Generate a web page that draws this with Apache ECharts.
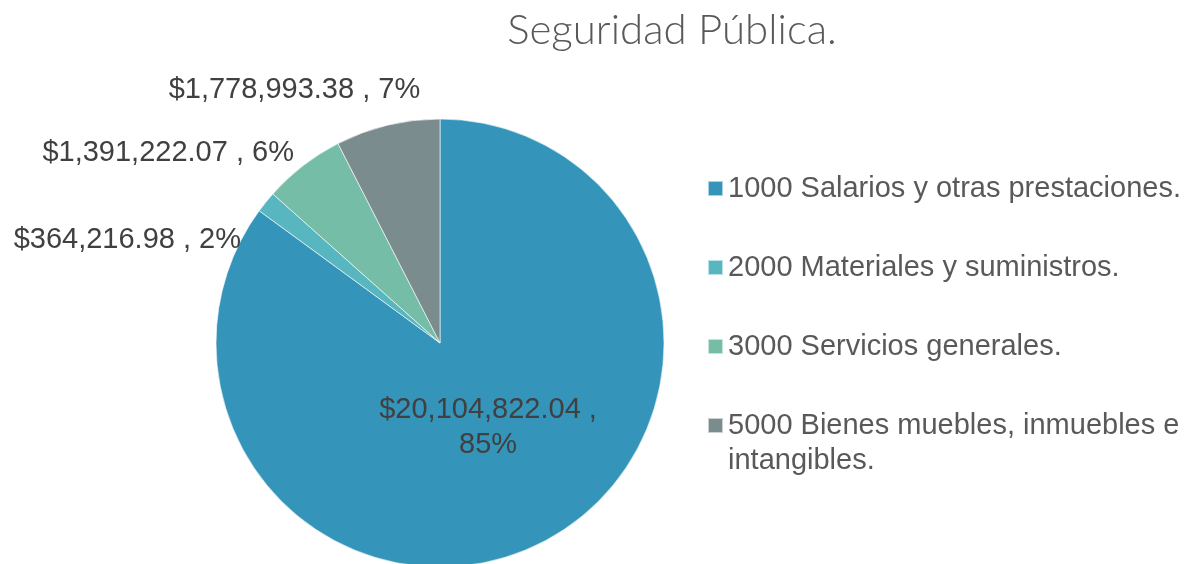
<!DOCTYPE html>
<html>
<head>
<meta charset="utf-8">
<script src="https://cdn.jsdelivr.net/npm/echarts@6/dist/echarts.min.js"></script>
<style>
  html, body { margin: 0; padding: 0; background: #fff; }
  #pie { width: 1187px; height: 564px; }
</style>
</head>
<body>
<div id="pie"></div>
<script>
var categories = [
    '1000 Salarios y otras prestaciones.',
    '2000 Materiales y suministros.',
    '3000 Servicios generales.',
    '5000 Bienes muebles, inmuebles e intangibles.'
];
var amounts = [20104822.04, 364216.98, 1391222.07, 1778993.38];
var percentLabels = ['85%', '2%', '6%', '7%'];
var colors = ['#3494BA', '#58B6C0', '#75BDA7', '#7A8C8E'];

function money(v) {
    var parts = v.toFixed(2).split('.');
    return '$' + parts[0].replace(/\B(?=(\d{3})+(?!\d))/g, ',') + '.' + parts[1];
}

var myChart = echarts.init(document.getElementById('pie'));

var pieData = [];
for (var i = 0; i < amounts.length; i++) {
    var item = { name: categories[i], value: amounts[i], itemStyle: { color: colors[i] } };
    if (i === 0) {
        item.label = { position: 'inside', formatter: function (p) { return money(p.value) + ' ,\n' + percentLabels[p.dataIndex]; } };
    }
    pieData.push(item);
}

// label nudges to mimic Excel "best fit" placement
var labelShift = [[-4, -18], [-12, 44], [2, -5], [40, -26]];

var option = {
    animation: false,
    title: {
        text: 'Seguridad Pública.',
        left: 667,
        top: 4,
        textAlign: 'center',
        textStyle: { fontFamily: 'Lato', fontWeight: 300, fontSize: 42, color: '#595959' }
    },
    legend: [{
        orient: 'vertical',
        left: 707,
        top: 171,
        padding: 0,
        itemWidth: 15,
        itemHeight: 15,
        itemGap: 44,
        icon: 'rect',
        data: categories.slice(0, 3),
        textStyle: { fontFamily: 'Liberation Sans', fontSize: 29, color: '#595959', lineHeight: 35 }
    }, {
        orient: 'vertical',
        left: 707,
        top: 373,
        padding: 0,
        itemWidth: 15,
        itemHeight: 15,
        icon: 'rect',
        data: categories.slice(3),
        formatter: function (name) { return ' \n5000 Bienes muebles, inmuebles e\nintangibles.'; },
        textStyle: { fontFamily: 'Liberation Sans', fontSize: 29, color: '#595959', lineHeight: 35 }
    }],
    series: [{
        type: 'pie',
        center: [440, 343],
        radius: 224,
        startAngle: 90,
        clockwise: true,
        avoidLabelOverlap: false,
        itemStyle: { borderColor: 'rgba(255,255,255,0.6)', borderWidth: 1 },
        label: {
            show: true,
            position: 'outside',
            fontFamily: 'Liberation Sans',
            fontSize: 29,
            color: '#404040',
            lineHeight: 35,
            formatter: function (p) { return money(p.value) + ' , ' + percentLabels[p.dataIndex]; }
        },
        labelLine: { show: false, length: 10, length2: 0 },
        labelLayout: function (p) {
            return { dx: labelShift[p.dataIndex][0], dy: labelShift[p.dataIndex][1] };
        },
        data: pieData
    }]
};

myChart.setOption(option);
</script>
</body>
</html>
